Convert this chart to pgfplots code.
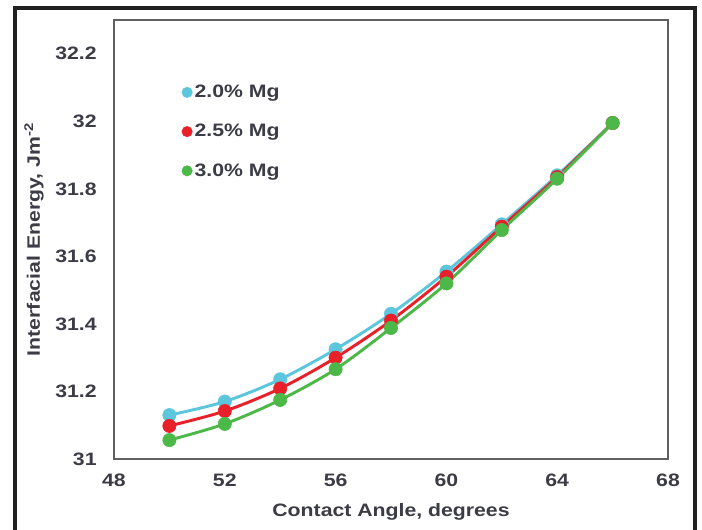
\documentclass[border=0pt]{standalone}
\usepackage{pgfplots}
\pgfplotsset{compat=1.18}
\usepackage{pgfplotstable}
\usepackage{fontspec}
\setmainfont{Liberation Sans}[FakeStretch=1.18]
\definecolor{txt}{HTML}{3C3C46}
\definecolor{cc}{HTML}{5BC6DC}
\definecolor{rr}{HTML}{E8202A}
\definecolor{gg}{HTML}{4CB848}
\definecolor{frm}{HTML}{222222}
\pgfplotstableread{
x c r g
50 31.130 31.098 31.056
52 31.170 31.142 31.104
54 31.236 31.209 31.175
56 31.325 31.300 31.266
58 31.430 31.410 31.388
60 31.555 31.540 31.520
62 31.695 31.688 31.678
64 31.840 31.835 31.830
66 31.995 31.995 31.995
}\data
\begin{document}
\begin{tikzpicture}
\begin{axis}[
  at={(0,0)}, anchor=south west,
  width=415.5pt, height=329.25pt, scale only axis,
  xmin=48, xmax=68, ymin=31, ymax=32.3,
  xtick={48,52,...,68}, ytick={31,31.2,...,32.21},
  major tick length=0pt,
  axis line style={gray!75!black, line width=1.3pt},
  font=\fontsize{13.5}{16}\selectfont\bfseries\color{txt},
  /pgf/number format/assume math mode=true,
  yticklabel style={/pgf/number format/fixed, /pgf/number format/precision=1, xshift=-9.5pt},
  xticklabel style={yshift=-7.5pt},
  xlabel={Contact Angle, degrees},
  ylabel={Interfacial Energy, Jm\textsuperscript{-2}},
  xlabel style={at={(axis description cs:0.5,-0.1207)}, anchor=center},
  ylabel style={at={(axis description cs:-0.1444,0.5)}, anchor=center, rotate=0},
  legend cell align=left,
  legend style={at={(axis description cs:0.1144,0.863)}, anchor=north west, draw=none, fill=none,
    row sep=15.5pt, font=\fontsize{13.5}{16}\selectfont\bfseries\color{txt},
    nodes={inner sep=1.5pt}},
  legend image code/.code={\fill[#1] (0.12cm,0cm) circle (3.9pt);},
]
\addplot[cc, line width=2.2pt, smooth, forget plot] table[x=x,y=c]{\data};
\addplot[rr, line width=2.2pt, smooth, forget plot] table[x=x,y=r]{\data};
\addplot[gg, line width=2.2pt, smooth, forget plot] table[x=x,y=g]{\data};
\addplot[only marks, mark=*, mark size=5pt, cc, mark options={fill=cc, draw=cc}] table[x=x,y=c]{\data};
\addlegendentry{2.0\% Mg}
\addplot[only marks, mark=*, mark size=5pt, rr, mark options={fill=rr, draw=rr}] table[x=x,y=r]{\data};
\addlegendentry{2.5\% Mg}
\addplot[only marks, mark=*, mark size=5pt, gg, mark options={fill=gg, draw=gg}] table[x=x,y=g]{\data};
\addlegendentry{3.0\% Mg}
\end{axis}
\draw[frm, line width=2.4pt] (-74.25pt,-60pt) -- (-74.25pt,338.25pt) -- (435.75pt,338.25pt) -- (435.75pt,-60pt);
\pgfresetboundingbox
\useasboundingbox (-85.5pt,-52.5pt) rectangle (441pt,344.25pt);
\end{tikzpicture}
\end{document}
